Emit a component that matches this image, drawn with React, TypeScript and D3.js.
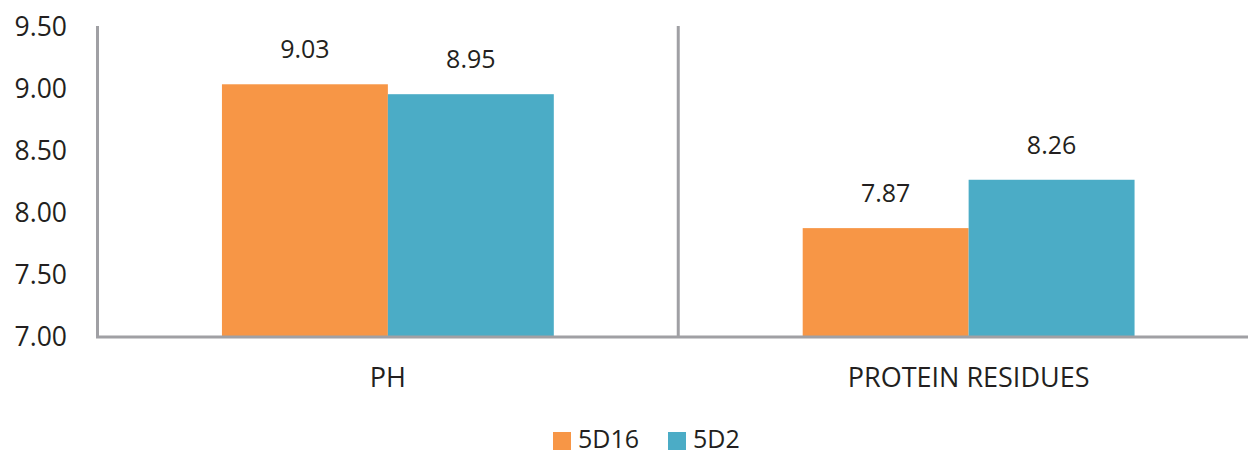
import React from "react";
import * as d3 from "d3";

const categories = ["PH", "PROTEIN RESIDUES"];
const seriesNames = ["5D16", "5D2"];
const values5D16 = [9.03, 7.87];
const values5D2 = [8.95, 8.26];
const yTicks = [7.0, 7.5, 8.0, 8.5, 9.0, 9.5];
const colors = ["#F79646", "#4BACC6"];

const W = 1248;
const H = 454;
const left = 97.5;
const right = 1259;
const top = 26;
const bottom = 336;
const FONT = "'Open Sans', 'DejaVu Sans', sans-serif";
const TEXT = "#231f20";
const AXIS = "#a0a0a4";

export default function App() {
  const x = d3.scaleBand<string>().domain(categories).range([left, right]).paddingInner(0).paddingOuter(0);
  const inner = d3.scaleBand<string>().domain(seriesNames).range([0, x.bandwidth()]).paddingInner(0).paddingOuter(0.75);
  const y = d3.scaleLinear().domain([7, 9.5]).range([bottom, top]);
  const series = [values5D16, values5D2];

  return (
    <svg width={W} height={H} style={{ position: "absolute", left: 0, top: 0, background: "#fff" }}>
      {yTicks.map((t) => (
        <text key={t} x={67} y={y(t)} dy="0.36em" textAnchor="end" fontFamily={FONT} fontSize={26.5} fill={TEXT}>
          {t.toFixed(2)}
        </text>
      ))}
      {categories.map((c, ci) =>
        series.map((vals, si) => {
          const bx = (x(c) as number) + (inner(seriesNames[si]) as number);
          const v = vals[ci];
          return (
            <g key={c + si}>
              <rect x={bx} y={y(v)} width={inner.bandwidth()} height={bottom - y(v)} fill={colors[si]} />
              <text x={bx + inner.bandwidth() / 2} y={y(v) - 26} textAnchor="middle" fontFamily={FONT} fontSize={25} fill={TEXT}>
                {v.toFixed(2)}
              </text>
            </g>
          );
        })
      )}
      {/* axis lines and category dividers */}
      <line x1={left} x2={left} y1={top} y2={bottom} stroke={AXIS} strokeWidth={3} />
      <line x1={(x(categories[1]) as number)} x2={(x(categories[1]) as number)} y1={top} y2={bottom} stroke={AXIS} strokeWidth={3} />
      <line x1={left - 1.5} x2={right} y1={bottom + 1} y2={bottom + 1} stroke={AXIS} strokeWidth={3} />
      {categories.map((c) => (
        <text key={c} x={(x(c) as number) + x.bandwidth() / 2} y={387} textAnchor="middle" fontFamily={FONT} fontSize={27} fill={TEXT}>
          {c}
        </text>
      ))}
      {/* legend */}
      {[
        { name: seriesNames[0], sx: 553, tx: 578 },
        { name: seriesNames[1], sx: 668, tx: 693 },
      ].map((l, i) => (
        <g key={l.name}>
          <rect x={l.sx} y={432} width={18} height={18} fill={colors[i]} />
          <text x={l.tx} y={448} fontFamily={FONT} fontSize={25} fill={TEXT}>
            {l.name}
          </text>
        </g>
      ))}
    </svg>
  );
}
